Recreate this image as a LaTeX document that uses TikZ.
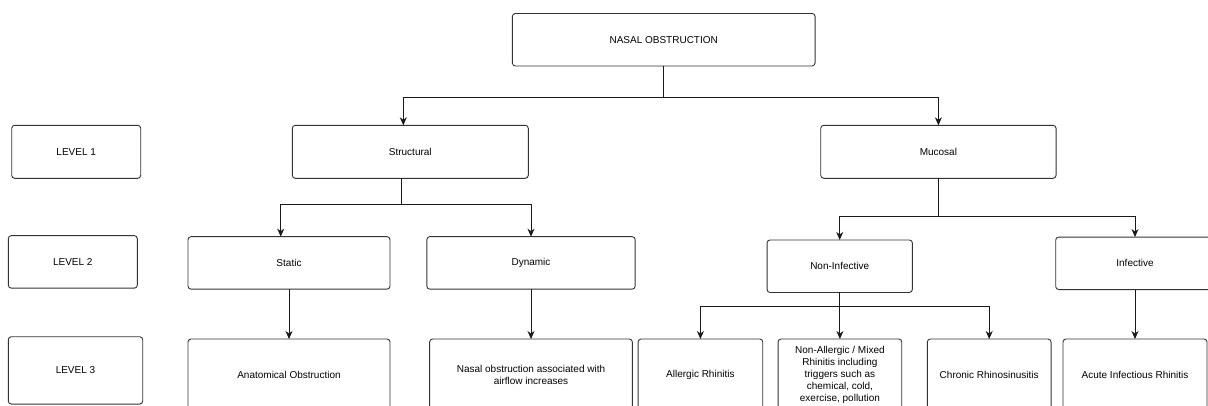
\documentclass[tikz,border=0pt]{standalone}
\usepackage{fontspec}
\setmainfont{Liberation Sans}
\usepackage{xcolor}
\definecolor{nsline}{HTML}{333333}
\usepackage{tikz}
\usetikzlibrary{arrows.meta}

\begin{document}
\begin{tikzpicture}[>={Stealth[length=8pt,width=7pt,inset=2.5pt]},x=1pt,y=-1pt]
\tikzset{
 n/.style={draw=nsline,line width=0.9pt,rounded corners=3pt,inner sep=2pt,outer sep=0pt,minimum height=52.5pt,align=center,font=\fontsize{10}{12}\selectfont},
 a/.style={->,line width=0.9pt,draw=black!90}
}
\useasboundingbox (0,0) rectangle (1208,405);
% level labels
\node[n,minimum width=129pt,minimum height=53pt] (l1) at (76.2,151.8) {LEVEL 1};
\node[n,minimum width=129pt] (l2) at (72.8,261.9) {LEVEL 2};
\node[n,minimum width=134.4pt,minimum height=67.3pt] (l3) at (75.5,370.4) {LEVEL 3};
% tree
\node[n,minimum width=302.7pt] (root) at (663.7,39.7) {NASAL OBSTRUCTION};
\node[n,minimum width=236pt,minimum height=53pt] (st) at (410.3,151.8) {Structural};
\node[n,minimum width=235.3pt,minimum height=53pt] (mu) at (938.4,151.8) {Mucosal};
\node[n,minimum width=202pt] (sta) at (289,262.9) {Static};
\node[n,minimum width=208.3pt] (dyn) at (531,262.9) {Dynamic};
\node[n,minimum width=145.3pt] (ni) at (839.7,266.2) {Non-Infective};
\node[n,minimum width=158.6pt] (inf) at (1135,263.3) {Infective};
\node[n,minimum width=202pt,minimum height=72pt] (ana) at (289,375) {Anatomical Obstruction};
\node[n,minimum width=202.7pt,minimum height=72pt] (nas) at (531,375) {Nasal obstruction associated with\\airflow increases};
\node[n,minimum width=124.7pt,minimum height=72pt] (all) at (700.4,375) {Allergic Rhinitis};
\node[n,minimum width=123.7pt,minimum height=72pt] (nam) at (839.9,375) {Non-Allergic / Mixed\\Rhinitis including\\triggers such as\\chemical, cold,\\exercise, pollution};
\node[n,minimum width=123.7pt,minimum height=72pt] (crs) at (989.2,375) {Chronic Rhinosinusitis};
\node[n,minimum width=144pt,minimum height=72pt] (acu) at (1135,375) {Acute Infectious Rhinitis};
% connectors
\foreach \i/\di/\d/\j/\dj in {root/0/31.7/st/-7,root/0/31.7/mu/0,st/-8.6/25.7/sta/-8.3,st/-8.6/25.7/dyn/0,mu/0/38.4/ni/0,mu/0/38.4/inf/0,ni/0/14.4/all/0,ni/0/14.4/nam/0,ni/0/14.4/crs/0}{\draw[a] ([xshift=\di pt]\i.south) -- ++(0,\d) -| ([xshift=\dj pt]\j.north);}
\foreach \i/\j in {sta/ana,dyn/nas,inf/acu}{\draw[a] (\i.south)--(\j.north);}
\end{tikzpicture}
\end{document}
